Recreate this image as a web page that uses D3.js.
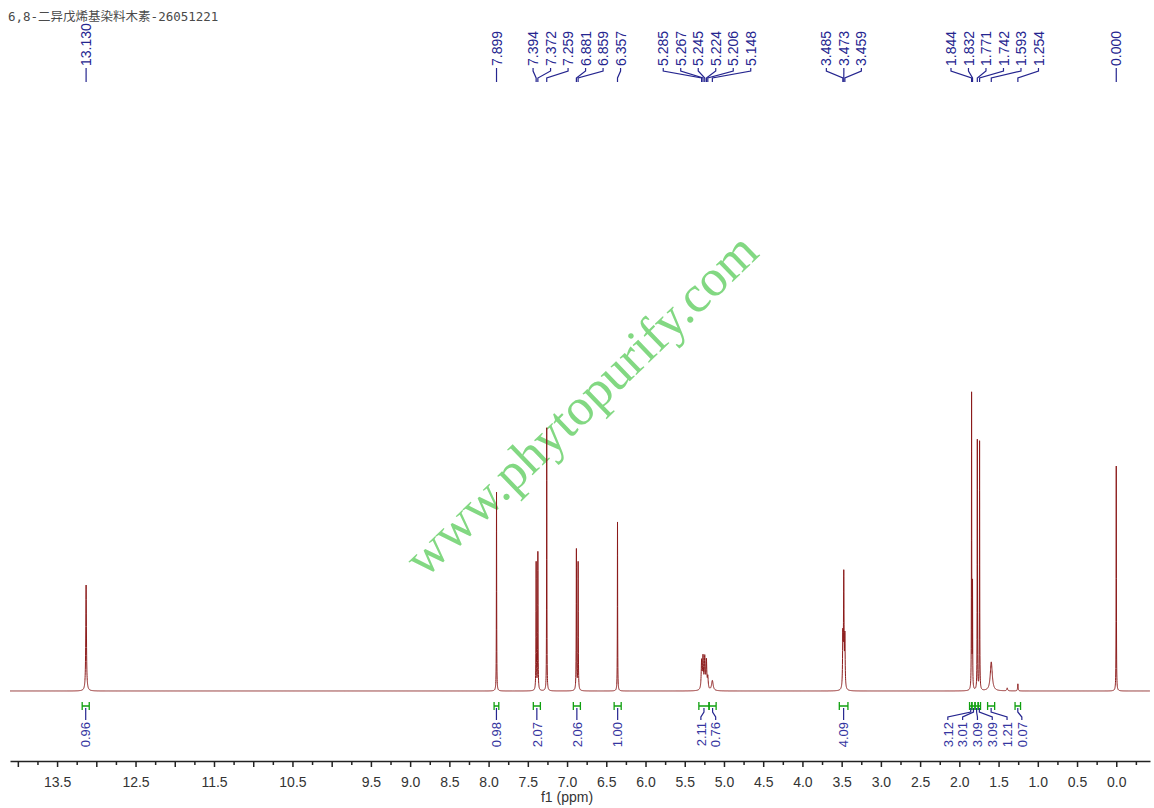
<!DOCTYPE html>
<html>
<head>
<meta charset="utf-8">
<script src="https://cdn.jsdelivr.net/npm/d3@7"></script>
<style>
  html, body { margin: 0; padding: 0; background: #fff; }
  svg { display: block; }
</style>
</head>
<body>
<svg id="chart" width="1154" height="808"></svg>
<script>
/* Spectrum data */
var title = '6,8-二异戊烯基染料木素-26051221';
var watermark = 'www.phytopurify.com';

// peak centres (ppm), relative heights (tallest = 100), half widths (ppm)
var peakShifts  = [13.130, 7.899, 7.394, 7.372, 7.259, 6.881, 6.859, 6.357,
                   5.285, 5.267, 5.245, 5.224, 5.206, 5.148,
                   3.485, 3.473, 3.459,
                   1.844, 1.832, 1.771, 1.742, 1.593, 1.390, 1.254, 0.000];
var peakHeights = [35.8, 67.2, 43.2, 46.6, 88.9, 47.6, 43.2, 57.1,
                   9.5, 10.5, 10.5, 9.5, 4.0, 3.4,
                   17, 38, 17,
                   100, 35, 84.5, 84.0, 9.8, 1.0, 2.4, 76.0];
var peakWidths  = [0.005, 0.002, 0.0025, 0.0025, 0.002, 0.0025, 0.0025, 0.002,
                   0.006, 0.006, 0.006, 0.006, 0.006, 0.012,
                   0.004, 0.004, 0.004,
                   0.002, 0.002, 0.002, 0.002, 0.015, 0.006, 0.004, 0.002];

// picked peak labels, one inner array per label cluster
var peakLabelGroups = [
  [13.130],
  [7.899],
  [7.394, 7.372, 7.259, 6.881, 6.859, 6.357],
  [5.285, 5.267, 5.245, 5.224, 5.206, 5.148],
  [3.485, 3.473, 3.459],
  [1.844, 1.832, 1.771, 1.742, 1.593, 1.254],
  [0.000]
];

// integration regions (ppm from, to) and their values
var integralRanges = [[13.18, 13.09], [7.93, 7.87], [7.43, 7.34], [6.92, 6.83],
                      [6.40, 6.31], [5.32, 5.19], [5.19, 5.10], [3.53, 3.42],
                      [1.87, 1.84], [1.84, 1.80], [1.80, 1.76], [1.76, 1.73],
                      [1.64, 1.55], [1.29, 1.22]];
var integralValues = [0.96, 0.98, 2.07, 2.06, 1.00, 2.11, 0.76, 4.09,
                      3.12, 3.01, 3.09, 3.09, 1.21, 0.07];
var integralGroups = [[0], [1], [2], [3], [4], [5, 6], [7], [8, 9, 10, 11, 12, 13]];

var tickLabels = ['13.5', '12.5', '11.5', '10.5', '9.5', '9.0', '8.5', '8.0', '7.5',
                  '7.0', '6.5', '6.0', '5.5', '5.0', '4.5', '4.0', '3.5', '3.0',
                  '2.5', '2.0', '1.5', '1.0', '0.5', '0.0'];

/* Commonly used names */
var svg = d3.select('#chart');
var sans = "'Liberation Sans', Arial, sans-serif";
var blue = '#25258f';
var green = '#11a011';

var x = d3.scaleLinear().domain([14.1, -0.43]).range([10, 1150]);
var y = d3.scaleLinear().domain([0, 100]).range([691, 395]);

/**
 * Positions for n labels spread evenly round a centre.
 */
var spread = function(center, n, gap) {
  return d3.range(n).map(function(i) { return center + (i - (n - 1) / 2) * gap; });
};

// watermark first so the spectrum sits over it
svg.append('text')
  .attr('transform', 'translate(425,579) rotate(-44)')
  .style('font-family', "'Liberation Serif', 'Times New Roman', serif")
  .style('font-size', '52px')
  .style('fill', '#82d882')
  .text(watermark);

// sum of lorentzians sampled on a fine grid, plus the exact centres
var grid = d3.range(14.1, -0.43, -0.001).concat(peakShifts);
grid.sort(function(a, b) { return b - a; });
var curve = grid.map(function(p) {
  var s = 0;
  for (var i = 0; i < peakShifts.length; i++) {
    var d = p - peakShifts[i], g = peakWidths[i];
    s += peakHeights[i] * g * g / (g * g + d * d);
  }
  return [p, s];
});

svg.append('path')
  .datum(curve)
  .attr('d', d3.line().x(function(d) { return x(d[0]); }).y(function(d) { return y(d[1]); }))
  .style('fill', 'none')
  .style('stroke', '#8b1a1a')
  .style('stroke-width', 1);

// peak labels along the top, with their leader lines
var peakLayer = svg.append('g');
peakLabelGroups.forEach(function(group) {
  var px = group.map(function(p) { return x(p); });
  var lx = spread((px[0] + px[px.length - 1]) / 2, group.length, 17.5);
  group.forEach(function(p, i) {
    peakLayer.append('text')
      .attr('transform', 'translate(' + lx[i] + ',66) rotate(-90)')
      .attr('dy', '0.36em')
      .style('font-family', sans)
      .style('font-size', '14px')
      .style('fill', blue)
      .text(p.toFixed(3));
    var d = group.length === 1
      ? 'M' + px[i] + ',68V82'
      : 'M' + lx[i] + ',68V71L' + px[i] + ',78V82';
    peakLayer.append('path')
      .attr('d', d)
      .style('fill', 'none')
      .style('stroke', blue)
      .style('stroke-width', 1.2);
  });
});

// integration marks and values under the baseline
var intLayer = svg.append('g');
integralGroups.forEach(function(group) {
  var cx = group.map(function(k) { return x((integralRanges[k][0] + integralRanges[k][1]) / 2); });
  var lx = spread(d3.mean(cx), group.length, 14.8);
  group.forEach(function(k, i) {
    var x1 = x(integralRanges[k][0]), x2 = x(integralRanges[k][1]);
    intLayer.append('path')
      .attr('d', 'M' + x1 + ',702V710M' + x2 + ',702V710M' + x1 + ',706H' + x2)
      .style('fill', 'none')
      .style('stroke', green)
      .style('stroke-width', 1.3);
    var d = group.length === 1
      ? 'M' + cx[i] + ',708V720'
      : 'M' + lx[i] + ',720V717L' + cx[i] + ',712V708';
    intLayer.append('path')
      .attr('d', d)
      .style('fill', 'none')
      .style('stroke', blue)
      .style('stroke-width', 1.2);
    intLayer.append('text')
      .attr('transform', 'translate(' + lx[i] + ',722) rotate(-90)')
      .attr('dy', '0.36em')
      .attr('text-anchor', 'end')
      .style('font-family', sans)
      .style('font-size', '13px')
      .style('fill', '#3535a0')
      .text(integralValues[k].toFixed(2));
  });
});

// x axis: major ticks every 0.5, minor every 0.25
var majors = d3.range(0, 28.5).map(function(i) { return i * 0.5; });
var minors = d3.range(-1, 28).map(function(i) { return i * 0.5 + 0.25; });

var axis = svg.append('g')
  .attr('transform', 'translate(0,761)')
  .call(d3.axisBottom(x)
    .tickValues(majors)
    .tickSize(6)
    .tickSizeOuter(0)
    .tickPadding(10)
    .tickFormat(function(d) {
      var s = d.toFixed(1);
      return tickLabels.indexOf(s) >= 0 ? s : '';
    }));
axis.append('g')
  .call(d3.axisBottom(x).tickValues(minors).tickSize(4).tickFormat(''))
  .select('.domain').remove();
axis.selectAll('path, line').style('stroke', '#222').style('stroke-width', 1.5);
axis.selectAll('text')
  .style('font-family', sans)
  .style('font-size', '14px')
  .style('fill', '#333');

svg.append('text')
  .attr('x', 567)
  .attr('y', 802)
  .attr('text-anchor', 'middle')
  .style('font-family', sans)
  .style('font-size', '14px')
  .style('fill', '#333')
  .text('f1 (ppm)');

svg.append('text')
  .attr('x', 8)
  .attr('y', 21)
  .style('font-family', "'DejaVu Sans Mono', 'Noto Sans CJK SC', monospace")
  .style('font-size', '12.5px')
  .style('fill', '#4a4a4a')
  .text(title);
</script>
</body>
</html>
